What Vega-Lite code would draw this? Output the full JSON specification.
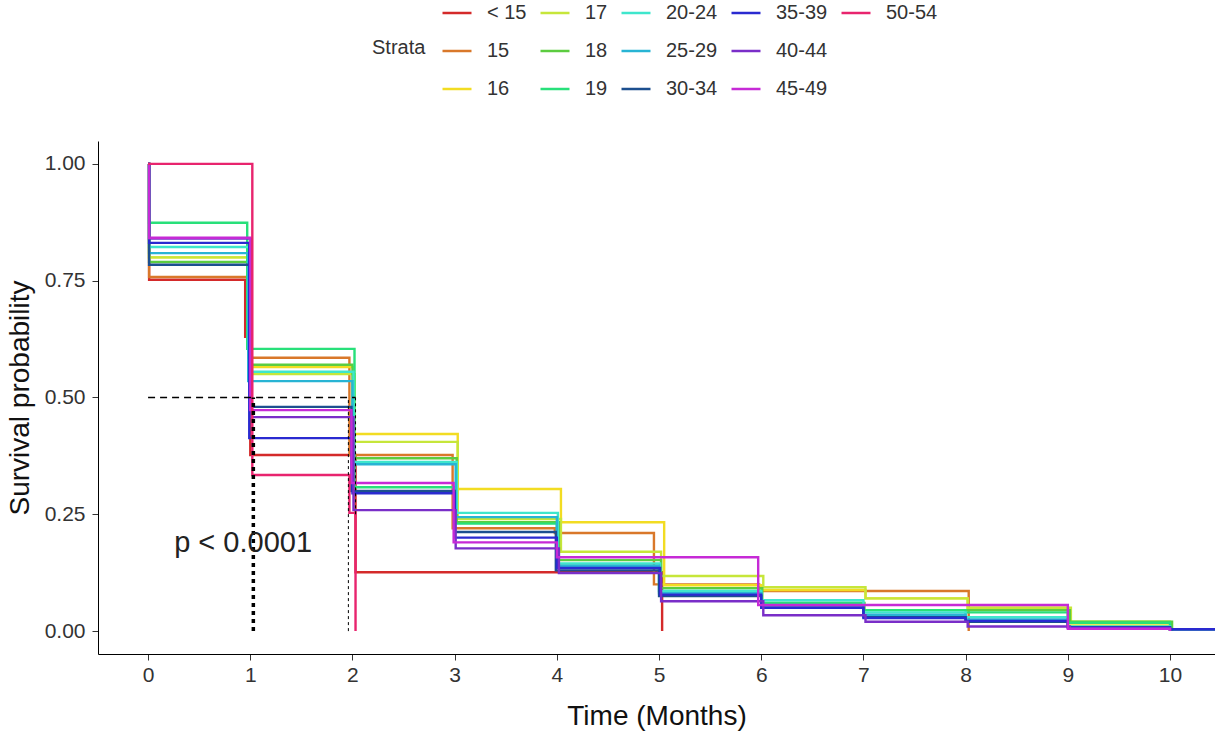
{
  "$schema": "https://vega.github.io/schema/vega-lite/v6.json",
  "width": 1117,
  "height": 513,
  "autosize": {"type": "none"},
  "padding": {"left": 98, "top": 141, "right": 0, "bottom": 80},
  "background": "white",
  "config": {
    "font": "Liberation Sans",
    "view": {"stroke": null},
    "axis": {"grid": false, "domainColor": "#000000", "domainWidth": 1, "tickColor": "#333333", "tickSize": 6, "labelFontSize": 21, "labelColor": "#333333", "titleFontSize": 28, "titleFontWeight": "normal", "titleColor": "#111111", "labelFont": "Liberation Sans", "titleFont": "Liberation Sans"}
  },
  "datasets": {
    "curves": [
      {"s": "< 15", "t": 0, "v": 1}, {"s": "< 15", "t": 0.01, "v": 0.752}, {"s": "< 15", "t": 0.95, "v": 0.63}, {"s": "< 15", "t": 1.0, "v": 0.377}, {"s": "< 15", "t": 2.03, "v": 0.126}, {"s": "< 15", "t": 5.03, "v": 0},
      {"s": "15", "t": 0, "v": 1}, {"s": "15", "t": 0.01, "v": 0.758}, {"s": "15", "t": 0.98, "v": 0.585}, {"s": "15", "t": 1.97, "v": 0.377}, {"s": "15", "t": 2.98, "v": 0.22}, {"s": "15", "t": 3.98, "v": 0.21}, {"s": "15", "t": 4.95, "v": 0.1}, {"s": "15", "t": 5.98, "v": 0.086}, {"s": "15", "t": 8.03, "v": 0},
      {"s": "16", "t": 0, "v": 1}, {"s": "16", "t": 0.01, "v": 0.80}, {"s": "16", "t": 0.99, "v": 0.565}, {"s": "16", "t": 2.01, "v": 0.422}, {"s": "16", "t": 3.03, "v": 0.304}, {"s": "16", "t": 4.04, "v": 0.233}, {"s": "16", "t": 5.05, "v": 0.098}, {"s": "16", "t": 6.0, "v": 0.088}, {"s": "16", "t": 7.02, "v": 0.07}, {"s": "16", "t": 8.02, "v": 0.05}, {"s": "16", "t": 9.0, "v": 0.012}, {"s": "16", "t": 10.0, "v": 0},
      {"s": "17", "t": 0, "v": 1}, {"s": "17", "t": 0.01, "v": 0.80}, {"s": "17", "t": 1.0, "v": 0.55}, {"s": "17", "t": 2.02, "v": 0.405}, {"s": "17", "t": 3.03, "v": 0.24}, {"s": "17", "t": 4.04, "v": 0.17}, {"s": "17", "t": 5.02, "v": 0.118}, {"s": "17", "t": 6.02, "v": 0.094}, {"s": "17", "t": 7.02, "v": 0.07}, {"s": "17", "t": 8.02, "v": 0.05}, {"s": "17", "t": 9.03, "v": 0.02}, {"s": "17", "t": 10.0, "v": 0},
      {"s": "18", "t": 0, "v": 1}, {"s": "18", "t": 0.01, "v": 0.79}, {"s": "18", "t": 1.01, "v": 0.57}, {"s": "18", "t": 2.0, "v": 0.37}, {"s": "18", "t": 3.02, "v": 0.233}, {"s": "18", "t": 4.02, "v": 0.152}, {"s": "18", "t": 5.02, "v": 0.092}, {"s": "18", "t": 6.01, "v": 0.06}, {"s": "18", "t": 7.01, "v": 0.045}, {"s": "18", "t": 9.02, "v": 0.02}, {"s": "18", "t": 10.02, "v": 0},
      {"s": "19", "t": 0, "v": 1}, {"s": "19", "t": 0.01, "v": 0.874}, {"s": "19", "t": 0.97, "v": 0.604}, {"s": "19", "t": 2.02, "v": 0.308}, {"s": "19", "t": 3.0, "v": 0.23}, {"s": "19", "t": 4.0, "v": 0.14}, {"s": "19", "t": 5.0, "v": 0.086}, {"s": "19", "t": 6.0, "v": 0.06}, {"s": "19", "t": 7.0, "v": 0.045}, {"s": "19", "t": 8.0, "v": 0.04}, {"s": "19", "t": 9.0, "v": 0.018}, {"s": "19", "t": 10.0, "v": 0},
      {"s": "20-24", "t": 0, "v": 1}, {"s": "20-24", "t": 0.01, "v": 0.822}, {"s": "20-24", "t": 0.99, "v": 0.555}, {"s": "20-24", "t": 2.01, "v": 0.362}, {"s": "20-24", "t": 3.02, "v": 0.253}, {"s": "20-24", "t": 4.01, "v": 0.145}, {"s": "20-24", "t": 5.01, "v": 0.086}, {"s": "20-24", "t": 6.0, "v": 0.066}, {"s": "20-24", "t": 7.0, "v": 0.04}, {"s": "20-24", "t": 8.0, "v": 0.03}, {"s": "20-24", "t": 9.0, "v": 0.01}, {"s": "20-24", "t": 10.0, "v": 0.004}, {"s": "20-24", "t": 10.44, "v": 0.004},
      {"s": "25-29", "t": 0, "v": 1}, {"s": "25-29", "t": 0.01, "v": 0.809}, {"s": "25-29", "t": 0.98, "v": 0.535}, {"s": "25-29", "t": 2.0, "v": 0.357}, {"s": "25-29", "t": 3.01, "v": 0.244}, {"s": "25-29", "t": 4.0, "v": 0.14}, {"s": "25-29", "t": 5.0, "v": 0.081}, {"s": "25-29", "t": 6.0, "v": 0.055}, {"s": "25-29", "t": 7.0, "v": 0.035}, {"s": "25-29", "t": 8.0, "v": 0.025}, {"s": "25-29", "t": 9.0, "v": 0.008}, {"s": "25-29", "t": 10.0, "v": 0.004}, {"s": "25-29", "t": 10.44, "v": 0.004},
      {"s": "30-34", "t": 0, "v": 1}, {"s": "30-34", "t": 0.01, "v": 0.784}, {"s": "30-34", "t": 1.0, "v": 0.48}, {"s": "30-34", "t": 1.99, "v": 0.30}, {"s": "30-34", "t": 3.0, "v": 0.212}, {"s": "30-34", "t": 3.99, "v": 0.13}, {"s": "30-34", "t": 5.0, "v": 0.075}, {"s": "30-34", "t": 6.0, "v": 0.05}, {"s": "30-34", "t": 7.0, "v": 0.03}, {"s": "30-34", "t": 8.0, "v": 0.02}, {"s": "30-34", "t": 9.0, "v": 0.008}, {"s": "30-34", "t": 10.0, "v": 0.004}, {"s": "30-34", "t": 10.44, "v": 0.004},
      {"s": "35-39", "t": 0, "v": 1}, {"s": "35-39", "t": 0.01, "v": 0.831}, {"s": "35-39", "t": 0.99, "v": 0.413}, {"s": "35-39", "t": 2.0, "v": 0.295}, {"s": "35-39", "t": 3.0, "v": 0.20}, {"s": "35-39", "t": 4.0, "v": 0.135}, {"s": "35-39", "t": 5.01, "v": 0.078}, {"s": "35-39", "t": 6.0, "v": 0.05}, {"s": "35-39", "t": 7.0, "v": 0.028}, {"s": "35-39", "t": 8.0, "v": 0.022}, {"s": "35-39", "t": 9.0, "v": 0.008}, {"s": "35-39", "t": 10.0, "v": 0.004}, {"s": "35-39", "t": 10.44, "v": 0.004},
      {"s": "40-44", "t": 0, "v": 1}, {"s": "40-44", "t": 0.01, "v": 0.84}, {"s": "40-44", "t": 1.01, "v": 0.458}, {"s": "40-44", "t": 2.01, "v": 0.259}, {"s": "40-44", "t": 3.01, "v": 0.177}, {"s": "40-44", "t": 4.02, "v": 0.124}, {"s": "40-44", "t": 5.02, "v": 0.064}, {"s": "40-44", "t": 6.02, "v": 0.034}, {"s": "40-44", "t": 7.02, "v": 0.02}, {"s": "40-44", "t": 8.02, "v": 0.01}, {"s": "40-44", "t": 9.02, "v": 0.005}, {"s": "40-44", "t": 10.0, "v": 0},
      {"s": "45-49", "t": 0, "v": 1}, {"s": "45-49", "t": 0.01, "v": 0.842}, {"s": "45-49", "t": 1.0, "v": 0.473}, {"s": "45-49", "t": 1.99, "v": 0.317}, {"s": "45-49", "t": 2.99, "v": 0.19}, {"s": "45-49", "t": 4.0, "v": 0.158}, {"s": "45-49", "t": 5.97, "v": 0.056}, {"s": "45-49", "t": 9.0, "v": 0.005}, {"s": "45-49", "t": 10.0, "v": 0},
      {"s": "50-54", "t": 0, "v": 1}, {"s": "50-54", "t": 1.02, "v": 0.334}, {"s": "50-54", "t": 1.97, "v": 0.253}, {"s": "50-54", "t": 2.03, "v": 0}
    ],
    "hlines": [{"x1": 0, "x2": 2.03, "y": 0.5}],
    "vlines": [{"x": 1.03, "y1": 0, "y2": 0.5, "k": "a"}, {"x": 1.96, "y1": 0, "y2": 0.5, "k": "b"}, {"x": 2.03, "y1": 0.25, "y2": 0.5, "k": "b"}],
    "label": [{"x": 0.93, "y": 0.188, "text": "p < 0.0001"}]
  },
  "layer": [
    {
      "data": {"name": "curves"},
      "mark": {"type": "line", "interpolate": "step-after", "strokeWidth": 2.4, "clip": true},
      "encoding": {
        "x": {"field": "t", "type": "quantitative", "scale": {"domain": [-0.49, 10.44], "nice": false, "zero": false}, "axis": {"values": [0,1,2,3,4,5,6,7,8,9,10], "format": "d", "title": "Time (Months)", "titlePadding": 17, "labelPadding": 4}},
        "y": {"field": "v", "type": "quantitative", "scale": {"domain": [-0.049, 1.049], "nice": false, "zero": false}, "axis": {"values": [0, 0.25, 0.5, 0.75, 1], "format": ".2f", "title": "Survival probability", "titlePadding": 10, "labelPadding": 7}},
        "color": {
          "field": "s", "type": "nominal",
          "scale": {
            "domain": ["< 15", "17", "20-24", "35-39", "50-54", "15", "18", "25-29", "40-44", " ", "16", "19", "30-34", "45-49"],
            "range": ["#d42a2a", "#c6e63a", "#3ee6cc", "#2a2ad0", "#e8246e", "#d9782a", "#5ccc40", "#28b4d4", "#7a2ec8", "rgba(255,255,255,0)", "#f2dc22", "#28e07a", "#1c4f8f", "#c62ad6"]
          },
          "legend": {
            "title": "Strata", "orient": "none", "legendX": 274, "legendY": -144,
            "direction": "horizontal", "columns": 5, "titleOrient": "left", "titleAnchor": "middle",
            "titleFontSize": 20, "titleFontWeight": "normal", "titleColor": "#333333", "titlePadding": 15,
            "labelFontSize": 20, "labelColor": "#333333", "labelOffset": 14,
            "symbolType": "stroke", "symbolStrokeWidth": 2.5, "symbolSize": 841,
            "rowPadding": 12, "columnPadding": 8
          }
        }
      }
    },
    {
      "data": {"name": "hlines"},
      "mark": {"type": "rule", "strokeDash": [7, 5], "strokeWidth": 1.3, "color": "#000000"},
      "encoding": {"x": {"field": "x1", "type": "quantitative"}, "x2": {"field": "x2"}, "y": {"field": "y", "type": "quantitative"}}
    },
    {
      "data": {"name": "vlines"},
      "mark": {"type": "rule", "color": "#000000"},
      "encoding": {
        "x": {"field": "x", "type": "quantitative"}, "y": {"field": "y1", "type": "quantitative"}, "y2": {"field": "y2"},
        "strokeWidth": {"field": "k", "type": "nominal", "scale": {"domain": ["a", "b"], "range": [3.5, 1]}, "legend": null},
        "strokeDash": {"field": "k", "type": "nominal", "scale": {"domain": ["a", "b"], "range": [[4, 4], [3, 3]]}, "legend": null}
      }
    },
    {
      "data": {"name": "label"},
      "mark": {"type": "text", "fontSize": 29, "color": "#222222", "font": "Liberation Sans"},
      "encoding": {"x": {"field": "x", "type": "quantitative"}, "y": {"field": "y", "type": "quantitative"}, "text": {"field": "text"}}
    }
  ]
}
